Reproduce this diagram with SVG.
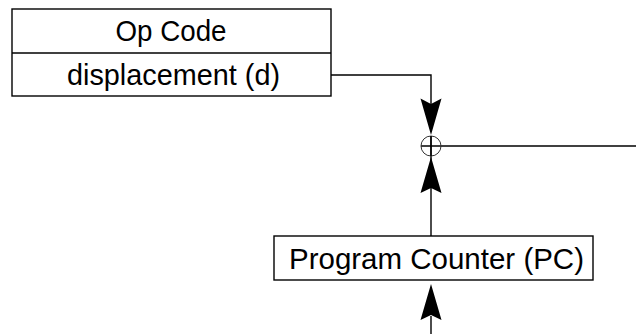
<svg xmlns="http://www.w3.org/2000/svg" width="636" height="334" viewBox="0 0 636 334">
<style>
.box{fill:#fff;stroke:#000;stroke-width:1.4}
.ln{fill:none;stroke:#000;stroke-width:1.4}
.ah{fill:#000;stroke:none}
.t{font-family:"Liberation Sans",Arial,sans-serif;font-size:29px;fill:#000;text-anchor:middle}
</style>
<rect width="636" height="334" fill="#fff"/>
<g id="connectors">
<polyline class="ln" points="331,75 431,75 431,104"/>
<line class="ln" x1="421" y1="146" x2="636" y2="146"/>
<line class="ln" x1="431" y1="136" x2="431" y2="236"/>
<line class="ln" x1="431" y1="316" x2="431" y2="334"/>
<polygon class="ah" points="431,135 441.5,98.5 431,104 420.5,98.5"/>
<polygon class="ah" points="431,157 441.5,193 431,188 420.5,193"/>
<polygon class="ah" points="431,284 441.5,320 431,315 420.5,320"/>
</g>
<g id="adder">
<circle cx="431" cy="146" r="10" fill="none" stroke="#333" stroke-width="1"/>
<line class="ln" x1="431" y1="136" x2="431" y2="156" stroke-width="1"/>
</g>
<g id="instruction">
<rect class="box" x="12" y="9" width="319" height="87"/>
<line class="ln" x1="12" y1="53" x2="331" y2="53"/>
<text class="t" x="171" y="40.5" textLength="111" lengthAdjust="spacingAndGlyphs">Op Code</text>
<text class="t" x="173.5" y="85" textLength="213" lengthAdjust="spacingAndGlyphs">displacement (d)</text>
</g>
<g id="pc">
<rect class="box" x="274" y="236" width="319" height="44"/>
<text class="t" x="436.5" y="268.5" textLength="295" lengthAdjust="spacingAndGlyphs">Program Counter (PC)</text>
</g>
</svg>
